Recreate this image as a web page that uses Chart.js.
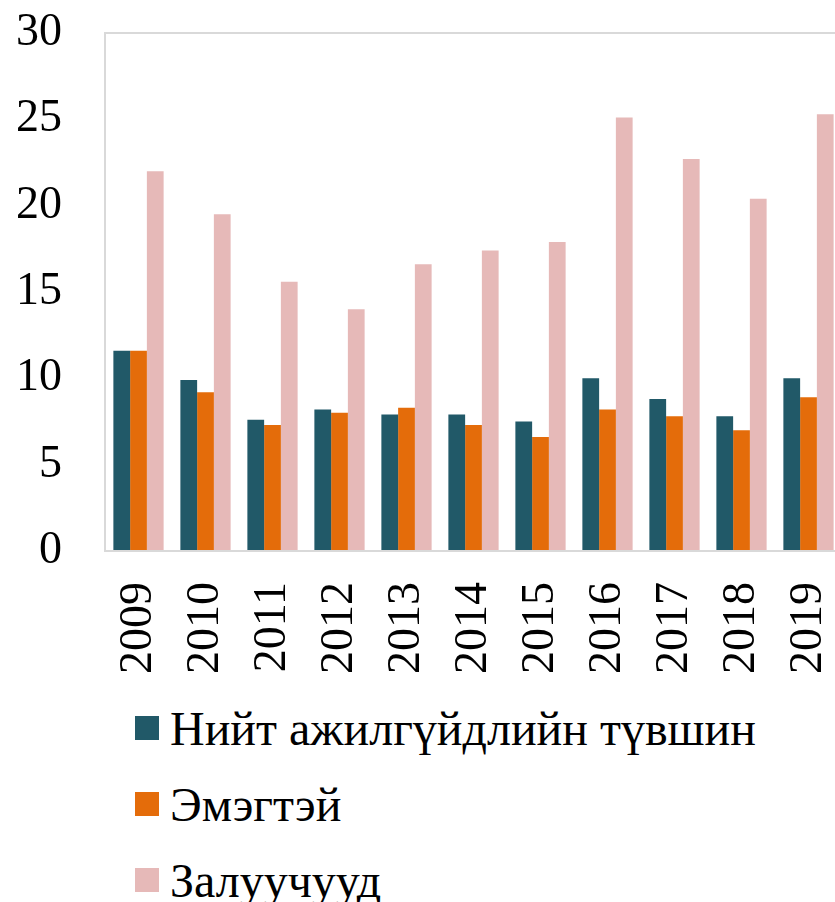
<!DOCTYPE html>
<html>
<head>
<meta charset="utf-8">
<script src="https://cdn.jsdelivr.net/npm/chart.js@4"></script>
<style>
  html, body { margin: 0; padding: 0; background: #fff; overflow: hidden; width: 835px; height: 902px; }
  #c { position: absolute; left: 0; top: 0; }
  #legend { position: absolute; left: 0; top: 0; font-family: 'Liberation Serif', 'Times New Roman', serif; font-size: 48px; color: #000; }
  .item { position: absolute; left: 135px; display: flex; align-items: center; white-space: nowrap; height: 60px; }
  .box { width: 24px; height: 24px; margin-right: 11px; }
</style>
</head>
<body>
<canvas id="c" width="845" height="690"></canvas>
<div id="legend"></div>
<script>
const years = ['2009','2010','2011','2012','2013','2014','2015','2016','2017','2018','2019'];
const seriesNames = ['Нийт ажилгүйдлийн түвшин', 'Эмэгтэй', 'Залуучууд'];
const total = [11.6, 9.9, 7.6, 8.2, 7.9, 7.9, 7.5, 10.0, 8.8, 7.8, 10.0];
const women = [11.6, 9.2, 7.3, 8.0, 8.3, 7.3, 6.6, 8.2, 7.8, 7.0, 8.9];
const youth = [22.0, 19.5, 15.6, 14.0, 16.6, 17.4, 17.9, 25.1, 22.7, 20.4, 25.3];
const yTicks = [0, 5, 10, 15, 20, 25, 30];

const colors = ['#215968', '#E46C0A', '#E6B9B8'];
const FONT = "'Liberation Serif', 'Times New Roman', serif";

const chart = new Chart(document.getElementById('c'), {
  type: 'bar',
  data: {
    labels: years,
    datasets: [
      { label: seriesNames[0], data: total, backgroundColor: colors[0] },
      { label: seriesNames[1], data: women, backgroundColor: colors[1] },
      { label: seriesNames[2], data: youth, backgroundColor: colors[2] }
    ]
  },
  options: {
    responsive: false,
    animation: false,
    layout: { padding: { left: 14, right: 3, top: 33, bottom: 0 } },
    plugins: { legend: { display: false }, tooltip: { enabled: false } },
    datasets: { bar: { categoryPercentage: 0.75, barPercentage: 1.0 } },
    scales: {
      x: {
        grid: { display: false, drawTicks: false },
        border: { display: true, color: '#d9d9d9', width: 2 },
        ticks: {
          color: '#000', font: { family: FONT, size: 46 },
          minRotation: 90, maxRotation: 90, padding: 31, autoSkip: false
        },
        afterFit: (s) => { s.paddingLeft = 0; s.paddingRight = 0; s.height = 139; }
      },
      y: {
        min: 0, max: 30,
        afterBuildTicks: (axis) => { axis.ticks = yTicks.map(v => ({ value: v })); },
        grid: {
          drawTicks: false,
          color: (ctx) => (ctx.tick && ctx.tick.value === 30) ? '#d9d9d9' : 'rgba(0,0,0,0)',
          lineWidth: 2
        },
        border: { display: true, color: '#d9d9d9', width: 2 },
        ticks: { color: '#000', font: { family: FONT, size: 46 }, padding: 43 },
        afterFit: (s) => { s.width = 91; s.paddingTop = 0; s.paddingBottom = 0; }
      }
    }
  }
});

// HTML legend built from the chart's datasets
const legend = document.getElementById('legend');
const rowCenters = [728, 804, 880];
chart.data.datasets.forEach((ds, i) => {
  const item = document.createElement('div');
  item.className = 'item';
  item.style.top = (rowCenters[i] - 30) + 'px';
  const box = document.createElement('span');
  box.className = 'box';
  box.style.background = ds.backgroundColor;
  const txt = document.createElement('span');
  txt.textContent = ds.label;
  item.appendChild(box);
  item.appendChild(txt);
  legend.appendChild(item);
});
</script>
</body>
</html>
